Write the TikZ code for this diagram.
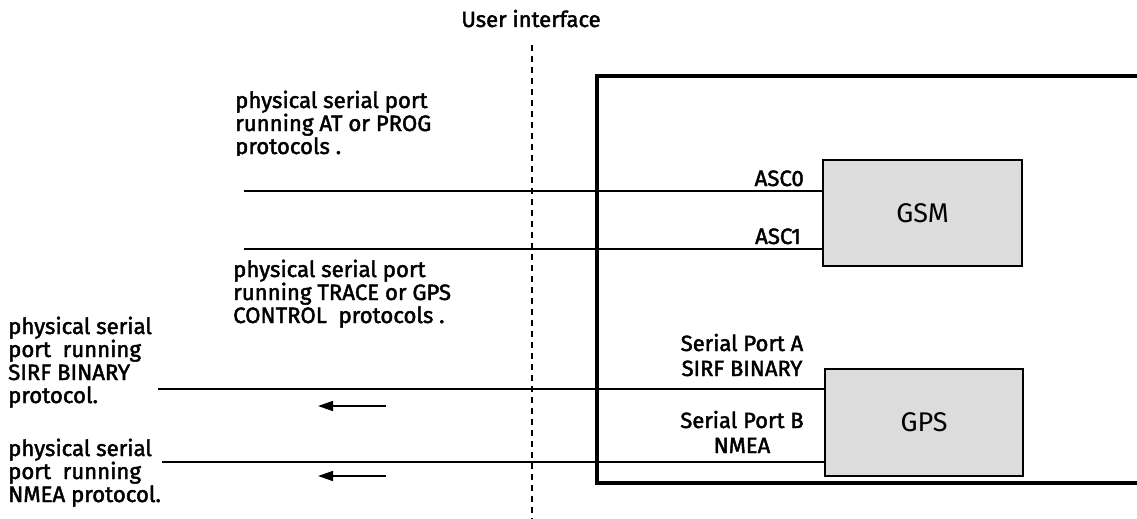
\documentclass[tikz,border=0pt]{standalone}
\usepackage{fontspec}
\setmainfont{Fira Sans}
\newfontfamily\lblfont{Fira Sans}[RawFeature={embolden=2}]
\usetikzlibrary{arrows.meta}
\definecolor{boxgray}{HTML}{DCDCDC}
\tikzset{
  lbl/.style={font=\lblfont\fontsize{22.2}{23}\selectfont, inner sep=0pt, align=left},
  lblc/.style={font=\lblfont\fontsize{22}{25}\selectfont, inner sep=0pt, align=center},
  unit/.style={draw=black, line width=2pt, fill=boxgray, inner sep=0pt, font=\fontsize{27}{30}\selectfont},
  thinport/.style={line width=1.5pt},
  thickport/.style={line width=2.5pt},
  flow/.style={line width=1.5pt, -{Triangle[length=15pt,width=10pt]}},
  frame/.style={line width=3.5pt}
}
\begin{document}
\begin{tikzpicture}[x=1pt,y=-1pt]
\useasboundingbox (0,0) rectangle (1137,519);
% user interface
\node[lblc, anchor=base] (ui) at (531,27) {User interface};
\coordinate (dtop) at (532,45);
\coordinate (dbot) at (532,519);
\draw[line width=1.5pt, dash pattern=on 6pt off 5pt] (dtop) -- (dbot);
% frame
\coordinate (ftr) at (1140,76);
\coordinate (ftl) at (597,76);
\coordinate (fbl) at (597,483);
\coordinate (fbr) at (1140,483);
\draw[frame] (ftr) -- (ftl) -- (fbl) -- (fbr);
% units
\node[unit, minimum width=199pt, minimum height=106pt] (gsm) at (922.5,213) {\raisebox{-3pt}{GSM}};
\node[unit, minimum width=198pt, minimum height=107pt] (gps) at (924,422.5) {\raisebox{-3pt}{GPS}};
% GSM ports
\coordinate (a0) at (244,191);
\coordinate (a1) at (244,249);
\draw[thinport] (a0) -- (gsm.west |- a0);
\draw[thinport] (a1) -- (gsm.west |- a1);
\node[lbl, anchor=base east] (asc0) at (804,186) {ASC0};
\node[lbl, anchor=base east] (asc1) at (801,244) {ASC1};
% GPS ports
\coordinate (sa) at (158,389);
\coordinate (sb) at (162,462);
\draw[thickport] (sa) -- (gps.west |- sa);
\draw[thickport] (sb) -- (gps.west |- sb);
\node[lblc, anchor=base] (pa) at (742,376) {Serial Port A\\SIRF BINARY};
\node[lblc, anchor=base] (pb) at (742,453) {Serial Port B\\NMEA};
% flow arrows
\coordinate (f1s) at (386,406);
\coordinate (f1e) at (318,406);
\coordinate (f2s) at (386,476);
\coordinate (f2e) at (318,476);
\draw[flow] (f1s) -- (f1e);
\draw[flow] (f2s) -- (f2e);
% descriptions
\begin{scope}
\clip (200,60) rectangle (520,155);
\node[lbl, anchor=base west] (d1) at (235,154) {physical serial port\\running AT or PROG\\protocols .};
\end{scope}
\node[lbl, anchor=base west] (d2) at (233,323) {physical serial port\\running TRACE or GPS\\CONTROL\ \ protocols .};
\node[lbl, anchor=base west] (d3) at (8,403) {physical serial\\port\ \ running\\SIRF BINARY\\protocol.};
\node[lbl, anchor=base west] (d4) at (8,502) {physical serial\\port\ \ running\\NMEA protocol.};
\end{tikzpicture}
\end{document}
